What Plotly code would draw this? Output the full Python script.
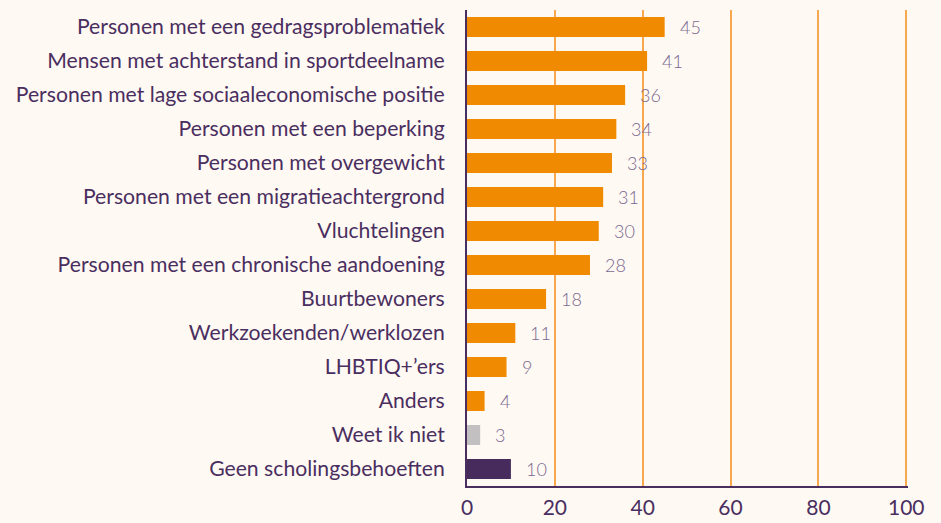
import plotly.graph_objects as go

categories = [
    "Personen met een gedragsproblematiek",
    "Mensen met achterstand in sportdeelname",
    "Personen met lage sociaaleconomische positie",
    "Personen met een beperking",
    "Personen met overgewicht",
    "Personen met een migratieachtergrond",
    "Vluchtelingen",
    "Personen met een chronische aandoening",
    "Buurtbewoners",
    "Werkzoekenden/werklozen",
    "LHBTIQ+\u2019ers",
    "Anders",
    "Weet ik niet",
    "Geen scholingsbehoeften",
]
values = [45, 41, 36, 34, 33, 31, 30, 28, 18, 11, 9, 4, 3, 10]
bar_colors = ["#F08A00"] * 12 + ["#C2C0C0", "#472B5C"]
x_ticks = [0, 20, 40, 60, 80, 100]

text_col = "#4A2E60"
bg = "#FFF9F3"

fig = go.Figure(go.Bar(
    y=categories, x=values, orientation="h",
    marker=dict(color=bar_colors, line=dict(width=0)),
    hoverinfo="skip",
))

for c, v in zip(categories, values):
    fig.add_annotation(x=v, y=c, text=str(v), showarrow=False,
                       xanchor="left", xshift=13,
                       font=dict(family="Lato", size=18, color="#7A6890", weight=300))

fig.update_layout(
    width=941, height=523,
    margin=dict(l=467, r=33, t=10, b=37),
    paper_bgcolor=bg, plot_bgcolor=bg,
    bargap=0.41,
    showlegend=False,
    font=dict(family="Lato", color=text_col),
)
fig.update_xaxes(range=[0, 100.4], tickvals=x_ticks, showgrid=True,
                 gridcolor="#F7A84E", gridwidth=2, zeroline=False,
                 showline=True, linecolor=text_col, linewidth=2,
                 tickfont=dict(size=21, color=text_col), ticks="", ticklabelstandoff=2,
                 automargin=False)
fig.update_yaxes(autorange="reversed", showgrid=False, showline=True,
                 linecolor=text_col, linewidth=2,
                 tickfont=dict(size=21.2, color=text_col), ticks="", ticklabelstandoff=16,
                 automargin=False)

fig.write_html(
    "out.html",
    config={"displayModeBar": False},
    post_script="document.body.style.margin='0';document.body.style.background='#FFF9F3';document.body.style.overflow='hidden';",
)
